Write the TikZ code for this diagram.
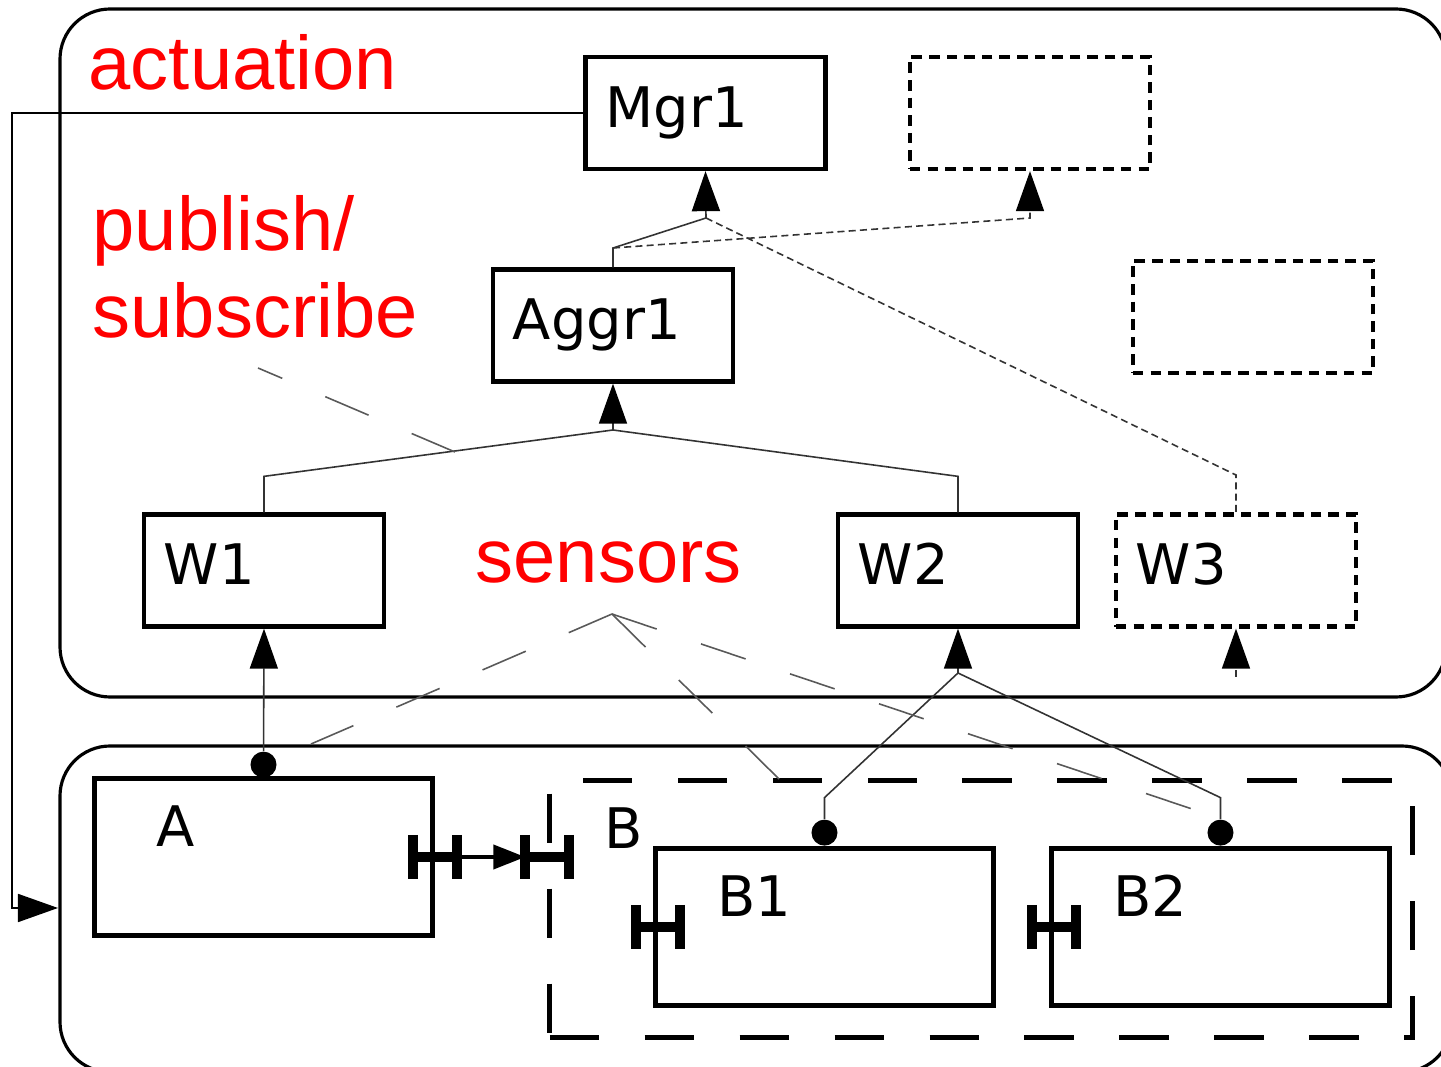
\documentclass[tikz,border=0pt]{standalone}
\usepackage{fontspec}
\setmainfont{DejaVu Sans}
\newfontfamily\notefont{Liberation Sans}
\usetikzlibrary{arrows.meta, positioning}

\tikzset{
  box/.style={draw, line width=1.2pt, minimum width=2.4cm, minimum height=1.12cm,
    text width=2.0cm, inner xsep=0.2cm, align=left, text height=0.41cm, text depth=0.13cm,
    font=\fontsize{15.9}{19}\selectfont},
  ghost/.style={box, dash pattern=on 3pt off 2pt},
  bigbox/.style={draw, line width=1.2pt, minimum width=3.38cm, minimum height=1.57cm, inner sep=0pt},
  groupbox/.style={draw, line width=1.4pt, dash pattern=on 14pt off 13pt,
    minimum width=8.62cm, minimum height=2.56cm, inner sep=0pt},
  tag/.style={anchor=base west, inner sep=0pt, xshift=0.63cm, yshift=-0.7cm,
    font=\fontsize{15.9}{19}\selectfont},
  frame/.style={line width=0.9pt, rounded corners=0.5cm},
  wire/.style={draw=black!80, line width=0.45pt},
  dotwire/.style={wire, dash pattern=on 2pt off 1.2pt},
  annot/.style={draw=black!65, line width=0.45pt, dash pattern=on 13.4pt off 13.3pt},
  tip/.style={-{Triangle[length=0.4cm, width=0.28cm, color=black]}},
  dot/.style={circle, fill, inner sep=0pt, minimum size=0.26cm},
  note/.style={text=red, font=\notefont\fontsize{21.6}{25}\selectfont, inner sep=0pt,
    anchor=base west, align=left},
  port/.pic={
    \draw[line width=2.8pt] (-22,-22) -- (-22,22) (22,-22) -- (22,22) (-22,0) -- (22,0);
    \coordinate (-in) at (-22,0);
    \coordinate (-out) at (22,0);
  }
}

\begin{document}
\begin{tikzpicture}[x=0.01cm, y=-0.01cm]
    \useasboundingbox (0,0) rectangle (1441,1067);
    \clip (0,0) rectangle (1441,1067);

    % The two frames
    \draw[frame] (60,9) rectangle (1446,697);
    \draw[frame] (60,746) rectangle (1452,1072);

    % Red labels
    \node[note] (actlbl) at (88,90) {actuation};
    \node[note] (pslbl) at (92,338) {publish/\\subscribe};
    \node[note] (senslbl) at (475,583) {sensors};

    % Upper components
    \node[box] (mgr) at (705.5,113) {Mgr1};
    \node[ghost] (spare1) at (1030,113) {};
    \node[ghost] (spare2) at (1253,317) {};
    \node[box] (aggr) at (613,325.5) {Aggr1};
    \node[box] (w1) at (264,570.5) {W1};
    \node[box] (w2) at (958,570.5) {W2};
    \node[ghost] (w3) at (1236,570.5) {W3};

    % Lower components
    \node[bigbox, label={[tag]north west:A}] (a) at (263.5,857) {};
    \node[groupbox, label={[tag, xshift=-0.07cm]north west:B}] (b) at (981,909) {};
    \node[bigbox, label={[tag]north west:B1}] (b1) at (824.5,927) {};
    \node[bigbox, label={[tag]north west:B2}] (b2) at (1220.5,927) {};

    % Sensor dots
    \node[dot, anchor=south] (adot) at ([yshift=-0.02cm]a.north) {};
    \node[dot, anchor=south] (b1dot) at (b1.north) {};
    \node[dot, anchor=south] (b2dot) at (b2.north) {};

    % Ports
    \pic (pa) at (a.east) {port};
    \pic (pb) at (b.west |- a.east) {port};
    \pic (pb1) at ([xshift=0.05cm]b1.west) {port};
    \pic (pb2) at ([xshift=0.05cm]b2.west) {port};
    \draw[line width=1.2pt, -{Triangle[length=0.32cm, width=0.24cm]}] (pa-out) -- (pb-in);

    % Aggr1 to Mgr1 (and spare)
    \coordinate (jm) at (706,218);
    \coordinate (jm1) at (613,248);
    \coordinate (js) at (1030,218);
    \coordinate (jw3) at (1236,475);
    \draw[wire] (aggr.north) -- (jm1) -- (jm);
    \draw[wire, tip] (jm) -- (mgr.south);
    \draw[dotwire, tip] (jm1) -- (js) -- (spare1.south);
    \draw[dotwire] (jm) -- (jw3) -- (w3.north);

    % Workers to Aggr1
    \coordinate (ja) at (613,430);
    \draw[wire] (w1.north) -- ++(0,-36) -- (ja);
    \draw[wire] (w2.north) -- ++(0,-36) -- (ja);
    \draw[wire, tip] (ja) -- (aggr.south);

    % Sensors to workers
    \coordinate (jb) at (958,673);
    \coordinate (w3in) at (1236,677);
    \draw[wire, tip] (adot) -- (w1.south);
    \draw[wire] (b1dot) -- ++(0,-35) -- (jb);
    \draw[wire] (b2dot) -- ++(0,-35) -- (jb);
    \draw[wire, tip] (jb) -- (w2.south);
    \draw[dotwire, tip] (w3in) -- (w3.south);

    % Actuation loop
    \coordinate (act) at (58,908);
    \draw[line width=0.5pt, tip] (mgr.west) -- (12,113) -- (12,908) -- (act);

    % Pointers from the red labels
    \coordinate (psend) at (455,452);
    \coordinate (pstail) at (258,368);
    \draw[annot] (psend) -- (pstail);
    \coordinate (sx) at (612,614);
    \draw[annot] (sx) -- (311,744);
    \draw[annot] (sx) -- (780,780);
    \draw[annot] (sx) -- (1195,810);
\end{tikzpicture}
\end{document}
